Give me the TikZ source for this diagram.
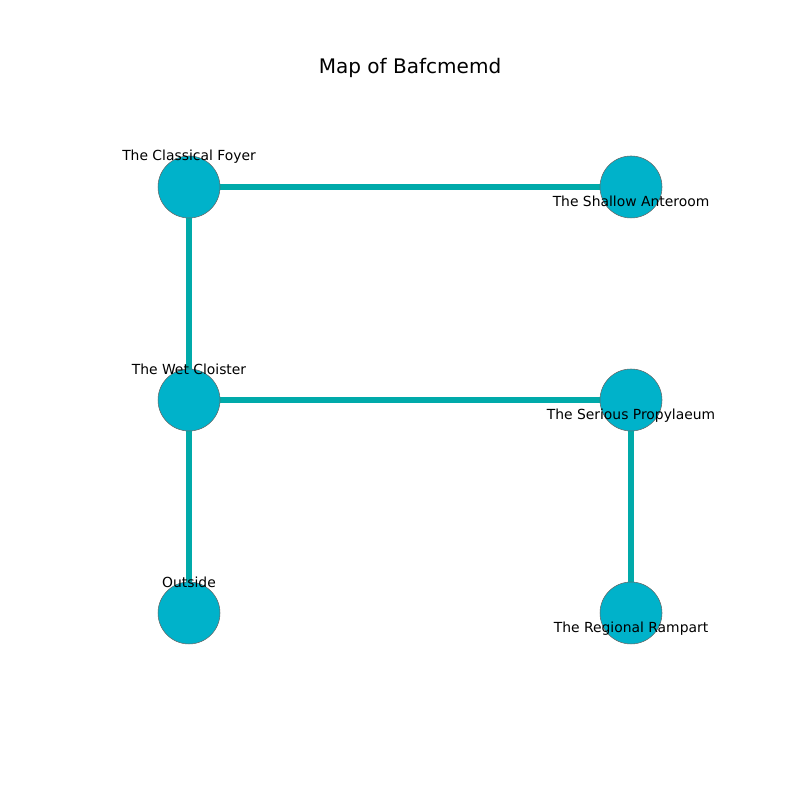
\documentclass[tikz,border=0pt]{standalone}
\usepackage{fontspec}
\setmainfont{DejaVu Sans}
\definecolor{roomFill}{RGB}{0,178,202}
\definecolor{passage}{RGB}{0,170,170}
\usetikzlibrary{backgrounds}

\begin{document}
\begin{tikzpicture}[
  room/.style={circle, draw=gray!80!black, line width=0.3pt, fill=roomFill, minimum size=1.24cm, inner sep=0pt},
  lbl/.style={font=\fontsize{7.9}{9.5}\selectfont, inner sep=0pt},
  link/.style={line width=3.3pt, passage}]
  \useasboundingbox (0,0) rectangle (16,16);
  % Title
  \node[font=\fontsize{11.4}{13}\selectfont] (title) at (8.2,14.64) {Map of Bafcmemd};
  % Rooms
  \node[room] (foyer) at (3.78,12.26) {};
  \node[room] (anteroom) at (12.62,12.26) {};
  \node[room] (cloister) at (3.78,8.0) {};
  \node[room] (propylaeum) at (12.62,8.0) {};
  \node[room] (outside) at (3.78,3.74) {};
  \node[room] (rampart) at (12.62,3.74) {};
  % Passages
  \begin{scope}[on background layer]
    \draw[link] (foyer) -- (anteroom);
    \draw[link] (foyer) -- (cloister);
    \draw[link] (cloister) -- (propylaeum);
    \draw[link] (cloister) -- (outside);
    \draw[link] (propylaeum) -- (rampart);
  \end{scope}
  % Labels
  \node[lbl] (foyerlbl) at ([yshift=0.6cm]foyer) {The Classical Foyer};
  \node[lbl] (anteroomlbl) at ([yshift=-0.29cm]anteroom) {The Shallow Anteroom};
  \node[lbl] (cloisterlbl) at ([yshift=0.62cm]cloister) {The Wet Cloister};
  \node[lbl] (propylaeumlbl) at ([yshift=-0.31cm]propylaeum) {The Serious Propylaeum};
  \node[lbl] (outsidelbl) at ([yshift=0.62cm]outside) {Outside};
  \node[lbl] (rampartlbl) at ([yshift=-0.31cm]rampart) {The Regional Rampart};
\end{tikzpicture}
\end{document}
